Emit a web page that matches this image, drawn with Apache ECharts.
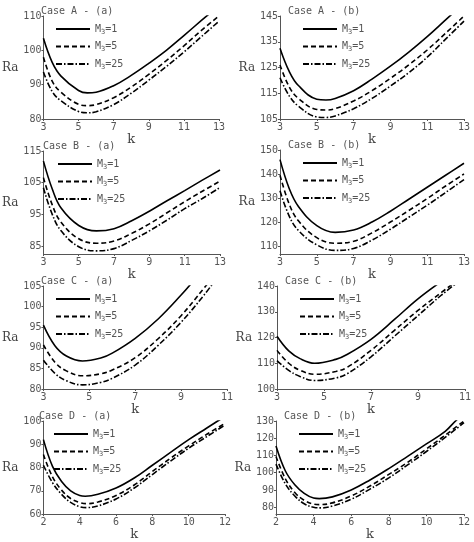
<!DOCTYPE html>
<html>
<head>
<meta charset="utf-8">
<script src="https://cdn.jsdelivr.net/npm/echarts@6/dist/echarts.min.js"></script>
<style>html,body{margin:0;padding:0;background:#fff}#main{width:474px;height:542px}</style>
</head>
<body>
<div id="main"></div>
<script>
// 面板标题
var titles = ['Case A - (a)', 'Case A - (b)', 'Case B - (a)', 'Case B - (b)',
              'Case C - (a)', 'Case C - (b)', 'Case D - (a)', 'Case D - (b)'];
var seriesNames = ['M3=1', 'M3=5', 'M3=25'];

// 坐标轴范围
var xMin = [3, 3, 3, 3, 3, 3, 2, 2];
var xMax = [13, 13, 13, 13, 11, 11, 12, 12];
var yMin = [80, 105, 82.5, 106.7, 80, 100, 60, 76];
var yMax = [110, 145, 115, 150, 105, 140, 100, 130];
// 刻度标签
var xTicks = [[3,5,7,9,11,13],[3,5,7,9,11,13],[3,5,7,9,11,13],[3,5,7,9,11,13],
              [3,5,7,9,11],[3,5,7,9,11],[2,4,6,8,10,12],[2,4,6,8,10,12]];
var yTicks = [[80,90,100,110],[105,115,125,135,145],[85,95,105,115],[110,120,130,140,150],
              [80,85,90,95,100,105],[100,110,120,130,140],[60,70,80,90,100],[80,90,100,110,120,130]];

// 数据 [k, Ra]
var aa1 = [[3,103.5],[3.5,96.5],[4,92.5],[5,88.3],[5.5,87.6],[6,87.8],[7,89.7],[8,92.7],[9,96.2],[10,100],[11,104.3],[12,108.7],[13,113]];
var aa5 = [[3,98],[3.5,91],[4,87.8],[5,84.3],[5.5,83.9],[6,84.2],[7,86.2],[8,89.3],[9,93],[10,97],[11,101.3],[12,105.8],[13,110]];
var aa25 = [[3,93.7],[3.5,88],[4,85.3],[5,82.2],[5.5,81.8],[6,82.1],[7,84.2],[8,87.5],[9,91.3],[10,95.3],[11,99.5],[12,104],[13,108.5]];

var ab1 = [[3,132.5],[3.5,123.5],[4,118],[5,112.7],[5.5,112.4],[6,113],[7,116],[8,120.5],[9,125.5],[10,131],[11,137],[12,143.5],[13,150]];
var ab5 = [[3,126],[3.5,117.5],[4,113],[5,108.7],[5.5,108.5],[6,109],[7,112],[8,116],[9,120.8],[10,126],[11,131.8],[12,138.3],[13,145]];
var ab25 = [[3,121],[3.5,114],[4,110],[5,105.8],[5.5,105.6],[6,106.2],[7,109],[8,113],[9,117.8],[10,123],[11,129],[12,136],[13,143]];

var ba1 = [[3,111.8],[3.5,103],[4,97],[5,91.5],[6,89.8],[7,90.5],[8,93],[9,96],[10,99.3],[11,102.5],[12,105.8],[13,109]];
var ba5 = [[3,106.6],[3.5,98],[4,92.5],[5,87.3],[6,85.9],[7,86.6],[8,89],[9,92],[10,95.5],[11,99],[12,102.3],[13,105.5]];
var ba25 = [[3,103.4],[3.5,95],[4,89.8],[5,84.8],[6,83.5],[7,84.2],[8,86.8],[9,89.8],[10,93.2],[11,96.8],[12,100],[13,103.5]];

var bb1 = [[3,146],[3.5,134],[4,126.5],[5,118.5],[6,115.7],[7,116.7],[8,120],[9,124.5],[10,129.5],[11,134.5],[12,139.5],[13,144.5]];
var bb5 = [[3,139.5],[3.5,127.5],[4,120.5],[5,113.5],[6,111.2],[7,112],[8,115.5],[9,120],[10,124.8],[11,129.8],[12,135],[13,140]];
var bb25 = [[3,133],[3.5,122.5],[4,116.5],[5,110.5],[6,108.2],[7,109],[8,112.5],[9,117],[10,122],[11,127],[12,132.3],[13,137.7]];

var ca1 = [[3,95.5],[3.5,90.5],[4,88],[4.7,86.8],[5.5,87.5],[6,88.7],[7,92.3],[8,97],[9,102.8],[9.5,106]];
var ca5 = [[3,90.7],[3.5,86.5],[4,84.4],[4.7,83.2],[5.5,83.7],[6,84.6],[7,87.6],[8,92.2],[9,97.8],[10,104.5],[10.5,108]];
var ca25 = [[3,87],[3.5,83.8],[4,82],[4.7,81],[5.5,81.6],[6,82.6],[7,85.8],[8,90.6],[9,96.2],[10,102.8],[10.5,106.5]];

var cb1 = [[3,120.5],[3.5,114.8],[4,111.7],[4.6,110],[5.5,111.5],[6,113.5],[7,119.3],[8,127],[9,135],[10,141.8]];
var cb5 = [[3,115],[3.5,110],[4,107.2],[4.6,105.7],[5.5,106.8],[6,108.5],[7,115],[8,122.8],[9,130.5],[10,137.5],[10.5,141]];
var cb25 = [[3,111],[3.5,107.2],[4,104.8],[4.6,103.3],[5.5,104.3],[6,106],[7,112.5],[8,120.5],[9,128.5],[10,136.5],[10.6,140.8]];

var da1 = [[2,92],[2.5,80.5],[3,74],[3.5,70],[4,68],[4.3,67.7],[5,68.5],[6,71.2],[7,75.5],[8,81],[9,86.5],[10,92],[11,97],[11.6,100],[12,102]];
var da5 = [[2,85.6],[2.5,76],[3,70.3],[3.5,66.7],[4,65],[4.4,64.5],[5,65.2],[6,68],[7,72.5],[8,78.3],[9,84],[10,89.3],[11,94.3],[12,99]];
var da25 = [[2,81],[2.5,73.5],[3,68.5],[3.5,65],[4,63.2],[4.4,62.8],[5,63.5],[6,66.5],[7,71.2],[8,77],[9,82.8],[10,88.3],[11,93.3],[12,98.3]];

var db1 = [[2,115.5],[2.5,101],[3,93],[3.5,88],[4,85.3],[4.3,85],[5,86],[6,90],[7,95.8],[8,102.4],[9,109.5],[10,116.7],[11,124],[11.6,130.5],[12,133.5]];
var db5 = [[2,109.4],[2.5,96.5],[3,88.5],[3.5,84],[4,81.8],[4.3,81.5],[5,82.5],[6,86.5],[7,92.3],[8,99],[9,106],[10,113.8],[11,121.8],[12,130]];
var db25 = [[2,105],[2.5,93.5],[3,86.5],[3.5,82],[4,80],[4.4,79.6],[5,80.7],[6,84.6],[7,90.5],[8,97],[9,104.5],[10,112.3],[11,120.5],[12,129]];

var panelData = [[aa1,aa5,aa25],[ab1,ab5,ab25],[ba1,ba5,ba25],[bb1,bb5,bb25],
                 [ca1,ca5,ca25],[cb1,cb5,cb25],[da1,da5,da25],[db1,db5,db25]];

// 网格位置 [left, top, width, height]
var boxes = [[33,16,186,103],[280,16,184,103],[35,151,185,103],[280,150,184,104],
             [33,286,194,103],[277,286,189,103],[31,421,194,104],[276,421,188,103]];

var lineTypes = ['solid', [5,3], [6,2,1.5,2]];
var font = 'DejaVu Sans Mono';

var grid = [], xAxis = [], yAxis = [], series = [], title = [], legend = [];
for (var i = 0; i < 8; i++) {
    var b = boxes[i];
    grid.push({left: b[0], top: b[1], width: b[2], height: b[3]});
    title.push({
        text: titles[i], left: b[0] + 3, top: b[1] - 15,
        textStyle: {fontFamily: font, fontSize: 10, fontWeight: 'normal', color: '#555'}
    });
    xAxis.push({
        type: 'value', gridIndex: i, min: xMin[i], max: xMax[i],
        name: 'k', nameLocation: 'middle', nameGap: 12,
        nameTextStyle: {fontFamily: 'DejaVu Serif', fontSize: 13, color: '#444'},
        axisLine: {lineStyle: {color: '#555', width: 1}},
        axisTick: {customValues: xTicks[i], length: 2, lineStyle: {color: '#555'}},
        axisLabel: {customValues: xTicks[i], fontFamily: font, fontSize: 10, color: '#555', margin: 3},
        splitLine: {show: false}
    });
    yAxis.push({
        type: 'value', gridIndex: i, min: yMin[i], max: yMax[i],
        name: 'Ra', nameLocation: 'middle', nameRotate: 0, nameGap: 22,
        nameTextStyle: {fontFamily: 'DejaVu Serif', fontSize: 12, color: '#444', align: 'center', padding: [14,0,0,0]},
        axisLine: {show: true, lineStyle: {color: '#555', width: 1}},
        axisTick: {customValues: yTicks[i], length: 2, lineStyle: {color: '#555'}},
        axisLabel: {customValues: yTicks[i], fontFamily: font, fontSize: 10, color: '#555', margin: 2},
        splitLine: {show: false}
    });
    var names = [];
    for (var s = 0; s < 3; s++) {
        var nm = seriesNames[s] + '\u200b'.repeat(i);
        names.push(nm);
        series.push({
            name: nm, type: 'line', xAxisIndex: i, yAxisIndex: i,
            data: panelData[i][s], smooth: 0.4, symbol: 'none', showSymbol: false, clip: true,
            lineStyle: {color: '#000', width: 1.6, type: lineTypes[s]},
            itemStyle: {color: '#000'}
        });
    }
    legend.push({
        data: names, orient: 'vertical', left: b[0] + 17, top: b[1] + 3,
        itemWidth: 34, itemHeight: 8, itemGap: 6, selectedMode: false,
        itemStyle: {opacity: 0},
        formatter: function (n) {
            var v = n.replace(/\u200b/g, '').slice(2);
            return '{m|M}{s|3}{m|' + v + '}';
        },
        textStyle: {
            color: '#555',
            rich: {
                m: {fontFamily: font, fontSize: 10, color: '#555'},
                s: {fontFamily: font, fontSize: 7, color: '#555', verticalAlign: 'bottom', padding: [6,0,0,0]}
            }
        }
    });
}

var option = {
    animation: false,
    title: title, legend: legend,
    grid: grid, xAxis: xAxis, yAxis: yAxis, series: series
};
var myChart = echarts.init(document.getElementById('main'));
myChart.setOption(option, true);
</script>
</body>
</html>
